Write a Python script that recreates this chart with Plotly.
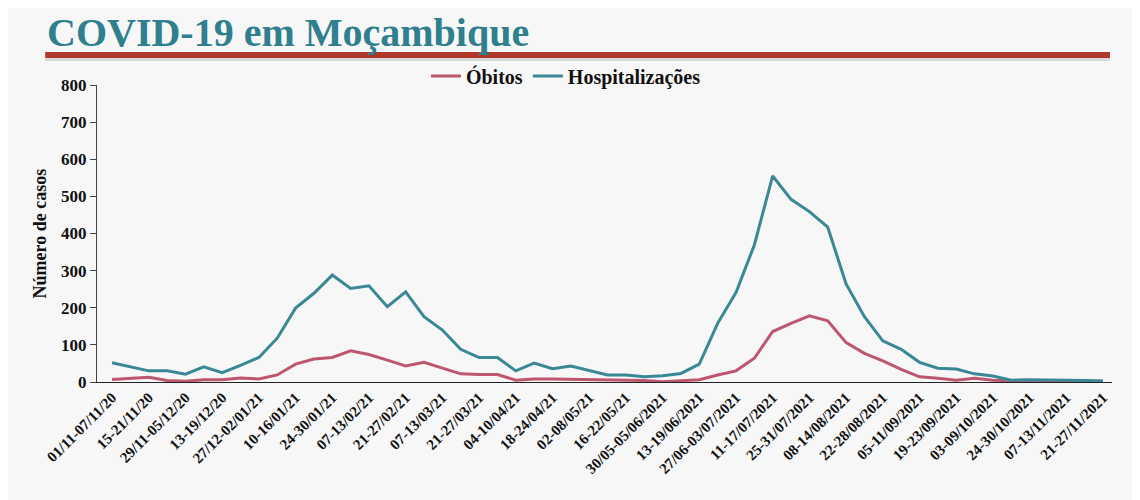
import plotly.graph_objects as go

# weekly periods (only every other one is labelled on the axis)
semanas = [
    "01/11-07/11/20", "08-14/11/20", "15-21/11/20", "22-28/11/20", "29/11-05/12/20",
    "06-12/12/20", "13-19/12/20", "20-26/12/20", "27/12-02/01/21", "03-09/01/21",
    "10-16/01/21", "17-23/01/21", "24-30/01/21", "31/01-06/02/21", "07-13/02/21",
    "14-20/02/21", "21-27/02/21", "28/02-06/03/21", "07-13/03/21", "14-20/03/21",
    "21-27/03/21", "28/03-03/04/21", "04-10/04/21", "11-17/04/21", "18-24/04/21",
    "25/04-01/05/21", "02-08/05/21", "09-15/05/21", "16-22/05/21", "23-29/05/21",
    "30/05-05/06/2021", "06-12/06/2021", "13-19/06/2021", "20-26/06/2021", "27/06-03/07/2021",
    "04-10/07/2021", "11-17/07/2021", "18-24/07/2021", "25-31/07/2021", "01-07/08/2021",
    "08-14/08/2021", "15-21/08/2021", "22-28/08/2021", "29/08-04/09/2021", "05-11/09/2021",
    "12-18/09/2021", "19-23/09/2021", "26/09-02/10/2021", "03-09/10/2021", "10-16/10/2021",
    "24-30/10/2021", "31/10-06/11/2021", "07-13/11/2021", "14-20/11/2021", "21-27/11/2021",
]

obitos = [
    7, 11, 13, 4, 2, 6, 6, 11, 8, 19,
    48, 62, 66, 84, 74, 59, 43, 53, 37, 22,
    20, 20, 5, 8, 8, 7, 6, 5, 5, 4,
    1, 3, 6, 19, 30, 64, 136, 158, 178, 165,
    106, 77, 57, 34, 14, 10, 5, 10, 5, 3,
    2, 3, 0, 2, 2,
]

hospitalizacoes = [
    52, 41, 30, 30, 21, 41, 25, 45, 66, 118,
    199, 239, 288, 252, 259, 203, 243, 176, 140, 88,
    66, 66, 30, 51, 36, 43, 30, 19, 19, 14,
    17, 23, 48, 158, 241, 369, 555, 492, 459, 417,
    264, 176, 111, 88, 53, 37, 35, 22, 16, 5,
    6, 6, 6, 4, 3,
]

y_ticks = [0, 100, 200, 300, 400, 500, 600, 700, 800]

SERIF = "Liberation Serif"
TEAL = "#3a8896"
ROSE = "#bd566f"

fig = go.Figure()
fig.add_trace(go.Scatter(x=semanas, y=obitos, name="Óbitos", mode="lines",
                         line=dict(color=ROSE, width=3)))
fig.add_trace(go.Scatter(x=semanas, y=hospitalizacoes, name="Hospitalizações", mode="lines",
                         line=dict(color=TEAL, width=3)))

# page body adds an 8px margin, so the figure is a bit smaller than the window
fig.update_layout(
    width=1132, height=492,
    margin=dict(l=89, r=28, t=77, b=118),
    paper_bgcolor="#f7f7f7",
    plot_bgcolor="#f7f7f7",
    font=dict(family=SERIF, color="#111111"),
    showlegend=True,
    legend=dict(orientation="h", x=0.462, y=1.03, xanchor="center", yanchor="middle",
                font=dict(family=SERIF, size=20, color="#111111", weight="bold"),
                bgcolor="rgba(0,0,0,0)", itemwidth=30),
    xaxis=dict(
        type="category",
        range=[-0.82, 54.49],
        tickvals=semanas[::2],
        ticktext=semanas[::2],
        tickangle=-45,
        tickfont=dict(family=SERIF, size=15, color="#111111", weight="bold"),
        showline=True, linecolor="#222222", linewidth=1,
        ticks="", showgrid=False, zeroline=False,
    ),
    yaxis=dict(
        range=[0, 800],
        tickvals=y_ticks,
        tickfont=dict(family=SERIF, size=17, color="#111111", weight="bold"),
        showline=True, linecolor="#444444", linewidth=1,
        ticks="outside", ticklen=6, tickcolor="#444444",
        showgrid=False, zeroline=False,
    ),
)

# y-axis title
fig.add_annotation(text="Número de casos", xref="paper", yref="paper",
                   x=-0.068, y=0.5, textangle=-90, showarrow=False,
                   font=dict(family=SERIF, size=18, color="#111111", weight="bold"))

# slide title and red rule
fig.add_annotation(text="COVID-19 em Moçambique", xref="paper", yref="paper",
                   x=-0.05, y=1.257, xanchor="left", yanchor="top", showarrow=False,
                   borderpad=0,
                   font=dict(family=SERIF, size=40, color="#2f7f8e", weight="bold"))
fig.add_shape(type="rect", xref="paper", yref="paper",
              x0=-0.051, x1=0.998, y0=1.081, y1=1.091,
              line=dict(width=0), fillcolor="#d8d8d8")
fig.add_shape(type="rect", xref="paper", yref="paper",
              x0=-0.051, x1=0.998, y0=1.091, y1=1.111,
              line=dict(width=0), fillcolor="#b0382b")

fig.write_html("out.html")
